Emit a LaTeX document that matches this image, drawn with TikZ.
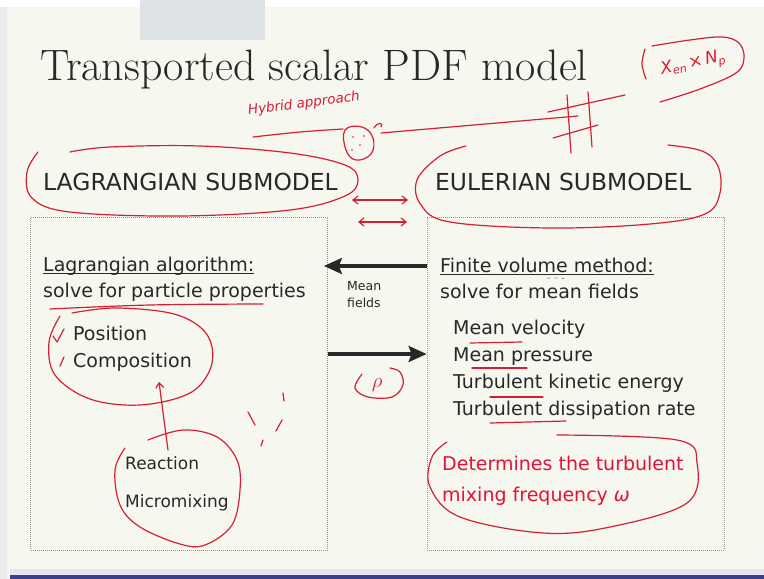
\documentclass[tikz,border=0pt]{standalone}
\usepackage{fontspec}
\usepackage{tikz}
\usetikzlibrary{arrows.meta}
\newfontfamily\slidesans{DejaVu Sans}
\definecolor{slidebg}{RGB}{246,247,239}
\definecolor{slidetext}{RGB}{40,40,40}
\definecolor{inkred}{RGB}{212,32,52}
\definecolor{printred}{RGB}{226,18,58}
\definecolor{dotgray}{RGB}{150,150,150}
\definecolor{barblue}{RGB}{60,64,140}
\definecolor{barlight}{RGB}{226,228,245}
\definecolor{topgray}{RGB}{222,227,230}

\begin{document}
\begin{tikzpicture}[x=1pt,y=-1pt,
  txt/.style={anchor=base west, inner sep=0pt, text=slidetext, font=\slidesans\fontsize{19}{23}\selectfont},
  head/.style={txt, font=\slidesans\fontsize{23.4}{28}\selectfont},
  small/.style={txt, font=\slidesans\fontsize{12.5}{15}\selectfont},
  ink/.style={inkred, line width=1.2pt, line cap=round, line join=round},
  dotbox/.style={draw=dotgray, line width=0.8pt, dash pattern=on 0.9pt off 1.1pt, minimum width=297pt, minimum height=333pt, inner sep=0pt},
  fatarrow/.style={slidetext, line width=3.2pt, -{Stealth[length=18pt,width=16pt,inset=3pt]}},
  redarrow/.style={ink, {Straight Barb[length=5pt,width=8pt]}-{Straight Barb[length=5pt,width=8pt]}}
]
\useasboundingbox (0,0) rectangle (764,579);
% slide background
\fill[slidebg] (0,0) rectangle (764,579);
\fill[white] (0,0) rectangle (764,7);
\fill[black!8] (0,7) rectangle (7,579);
\fill[topgray] (140,0) rectangle (265,40);
\fill[barlight] (10,569) rectangle (764,575);
\fill[barblue] (10,575) rectangle (764,579);

% Title
\node[anchor=base west, inner sep=0pt, text=slidetext, font=\fontsize{44}{52}\selectfont] (title) at (40,80) {Transported scalar PDF model};

% Submodel headings
\node[head] (lagsub) at (43,190) {LAGRANGIAN SUBMODEL};
\node[head] (eulsub) at (435,190) {EULERIAN SUBMODEL};

% Dotted boxes
\node[dotbox] (lagbox) at (179,383.5) {};
\node[dotbox] (eulbox) at (575.5,383.5) {};

% Left box text
\node[txt] (lagalg) at (43,271) {Lagrangian algorithm:};
\draw[slidetext, line width=0.9pt] ([yshift=-2.5pt]lagalg.base west) -- ([yshift=-2.5pt]lagalg.base east);
\node[txt] (lagsolve) at (43,297) {solve for particle properties};
\node[txt] (position) at (73,340) {Position};
\node[txt] (composition) at (73,367) {Composition};
\node[txt, font=\slidesans\fontsize{17}{20}\selectfont] (reaction) at (125,469) {Reaction};
\node[txt, font=\slidesans\fontsize{17}{20}\selectfont] (micromix) at (125,507) {Micromixing};

% Right box text
\node[txt] (fvm) at (440,272) {Finite volume method:};
\draw[slidetext, line width=0.9pt] ([yshift=-2.5pt]fvm.base west) -- ([yshift=-2.5pt]fvm.base east);
\node[txt] (eulsolve) at (440,298) {solve for mean fields};
\node[txt] (meanvel) at (453,334) {Mean velocity};
\node[txt] (meanpres) at (453,361) {Mean pressure};
\node[txt] (tke) at (453,388) {Turbulent kinetic energy};
\node[txt] (tdr) at (453,415) {Turbulent dissipation rate};
\node[txt, text=printred] (determines) at (442,470) {Determines the turbulent};
\node[txt, text=printred] (mixfreq) at (442,501) {mixing frequency {\itshape ω}};
\node[text=gray, inner sep=0pt, font=\fontsize{5}{6}\selectfont] (omegamark) at (556,280) {$\omega=\frac{\ }{\ }$};

% Exchange arrows between the boxes
\coordinate (mfrow) at (0,266);
\coordinate (rhorow) at (0,354);
\draw[fatarrow, shorten >=-4pt] (mfrow -| eulbox.west) -- (mfrow -| lagbox.east);
\draw[fatarrow] (rhorow -| lagbox.east) -- (rhorow -| eulbox.west);
\node[small] (meanlbl) at (347,290) {Mean};
\node[small] (fieldslbl) at (347,307) {fields};

% Handwritten notes
\node[text=inkred, rotate=7, inner sep=0pt, font=\slidesans\itshape\fontsize{13.5}{16}\selectfont] (hybrid) at (304,104) {Hybrid approach};
\node[text=inkred, rotate=12, inner sep=0pt, font=\slidesans\itshape\fontsize{17}{20}\selectfont] (xenlbl) at (693,64) {X\raisebox{-3pt}{\fontsize{11}{12}\selectfont en}\,×\,N\raisebox{-3pt}{\fontsize{11}{12}\selectfont p}};
\node[text=inkred, inner sep=0pt, font=\fontsize{20}{24}\selectfont] (rholbl) at (377,385) {$\rho$};

% Ink strokes near the title
\draw[ink] plot[smooth, tension=0.6] coordinates {(253,137) (300,132) (343,129)};
\draw[ink] plot[smooth cycle, tension=0.7] coordinates {(345,130) (362,127) (373,138) (371,154) (356,160) (346,150)};
\fill[inkred] (353,137) circle (0.8) (360,145) circle (0.8) (352,150) circle (0.8) (364,136) circle (0.8);
\draw[ink] (374,128) .. controls (378,121) and (384,123) .. (381,127);
\draw[ink] (381,133) -- (578,116);
\draw[ink] (548,112) -- (625,95);
\draw[ink] (553,138) -- (598,125);
\draw[ink] (567,95) -- (571,153);
\draw[ink] (588,92) -- (592,147);
\draw[ink] plot[smooth, tension=0.6] coordinates {(645,49) (642,64) (646,79)};
\draw[ink] plot[smooth, tension=0.6] coordinates {(652,46) (690,40) (722,37) (739,43) (744,58) (736,73) (700,89) (660,102)};

% Loops round the headings
\draw[ink] plot[smooth, tension=0.6] coordinates {(70,152) (110,147) (200,146) (290,153) (345,165) (358,180) (345,196) (290,210) (180,216) (70,212) (32,198) (27,172) (38,152)};
\draw[ink] plot[smooth, tension=0.6] coordinates {(466,146) (440,156) (417,180) (421,205) (450,222) (550,228) (650,224) (705,214) (720,193) (718,166) (702,151) (668,145)};
\coordinate (dblAw) at (352,200);
\coordinate (dblAe) at (408,200);
\coordinate (dblBw) at (358,222);
\coordinate (dblBe) at (407,222);
\draw[redarrow] (dblAw) -- (dblAe);
\draw[redarrow] (dblBw) -- (dblBe);

% Ink in the left box
\draw[ink] plot[smooth, tension=0.6] coordinates {(50,309) (150,305) (263,304)};
\draw[ink] (53,336) -- (57,342) -- (64,329);
\draw[ink] (60,366) -- (64,357);
\draw[ink] plot[smooth, tension=0.6] coordinates {(60,316) (49,342) (55,375) (90,399) (140,405) (188,394) (209,372) (212,347) (200,327) (170,313) (115,308) (72,313)};
\draw[ink] plot[smooth, tension=0.6] coordinates {(148,440) (183,430) (217,437) (237,460) (240,490) (232,525) (205,545) (180,544) (140,527) (120,505) (115,470) (125,448)};
\coordinate (loopbottom) at (159,382);
\coordinate (reactiontop) at (168,450);
\draw[ink, -{Straight Barb[length=5pt,width=8pt]}] (reactiontop) -- (loopbottom);
\draw[ink] (248,412) -- (255,425);
\draw[ink] (283,393) -- (284,401);
\draw[ink] (282,420) -- (276,431);
\draw[ink] (263,440) -- (261,446);

% Ink in the middle and the right box
\draw[ink] plot[smooth, tension=0.6] coordinates {(362,374) (355,388) (368,397) (392,397) (403,385) (400,372) (390,368)};
\draw[ink] (470,343) -- (522,342);
\draw[ink] (472,368) -- (527,368);
\draw[ink] (490,397) -- (543,397);
\draw[ink] (490,423) -- (566,421);
\draw[ink] plot[smooth, tension=0.6] coordinates {(557,435) (677,440) (697,463) (687,503) (610,527) (543,533) (460,517) (430,487) (432,457) (447,442)};
\end{tikzpicture}
\end{document}
